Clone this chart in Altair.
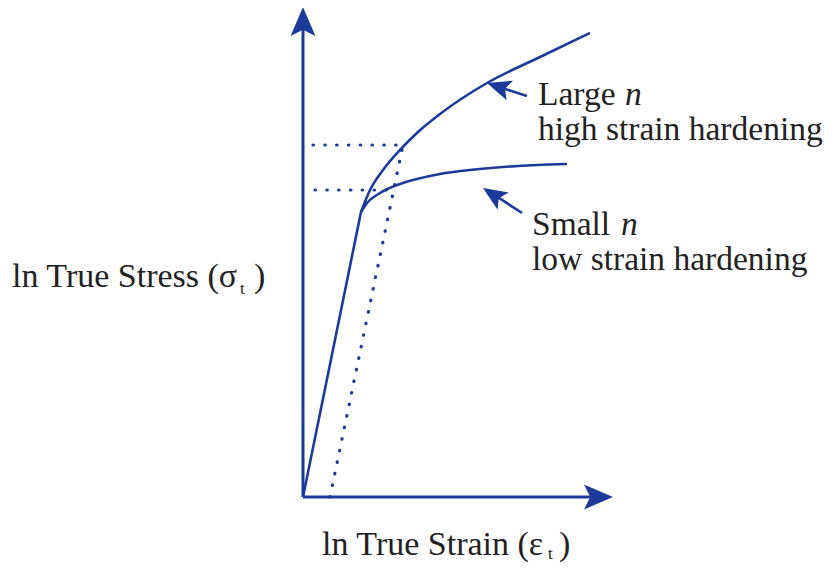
import altair as alt
import pandas as pd

# Schematic coordinates: x = ln strain (arbitrary units), y = ln stress (arbitrary units)
elastic_x = [0, 58]
elastic_y = [0, 285]

large_x = [58, 67, 80, 97, 115, 137, 184, 237, 287]
large_y = [285, 307, 327, 347, 365, 383, 414, 440, 464]

small_x = [58, 64, 77, 97, 114, 137, 167, 200, 234, 264]
small_y = [285, 294, 304, 313, 318, 323, 327, 330, 332, 333]

offset_x = [27, 100]
offset_y = [0, 352]

hi_x = [10, 100]
hi_y = [352, 352]
lo_x = [12, 89]
lo_y = [307, 307]

BLUE = "#1b3a9a"
INK = "#222222"
FONT = "Liberation Serif"
FS = 34
FS_R = 33.5

xs = alt.Scale(domain=[-295, 522], nice=False, zero=False)
ys = alt.Scale(domain=[-66, 489], nice=False, zero=False)


def line(xv, yv, dashed=False, width=2.6, interp="linear"):
    df = pd.DataFrame({"x": xv, "y": yv, "o": range(len(xv))})
    kw = dict(color=BLUE, strokeWidth=width, interpolate=interp)
    if dashed:
        kw.update(strokeDash=[0.5, 11.3], strokeCap="round", strokeWidth=3.2)
    return alt.Chart(df).mark_line(**kw).encode(
        x=alt.X("x:Q", scale=xs, axis=None),
        y=alt.Y("y:Q", scale=ys, axis=None),
        order="o:Q",
    )


ARROW = "M0,0 L0.857,2 L0,1.57 L-0.857,2 Z"


def head(x, y, ang, size):
    df = pd.DataFrame({"x": [x], "y": [y]})
    return alt.Chart(df).mark_point(
        shape=ARROW, filled=True, color=BLUE, opacity=1, size=size, angle=ang, strokeWidth=0
    ).encode(x=alt.X("x:Q", scale=xs, axis=None), y=alt.Y("y:Q", scale=ys, axis=None))


def text(s, x, y, size=FS, style="normal", align="left"):
    df = pd.DataFrame({"x": [x], "y": [y], "t": [s]})
    return alt.Chart(df).mark_text(
        font=FONT, fontSize=size, fontStyle=style, color=INK, align=align, baseline="alphabetic"
    ).encode(x=alt.X("x:Q", scale=xs, axis=None), y=alt.Y("y:Q", scale=ys, axis=None), text="t:N")


layers = [
    # axes
    line([0, 0], [0, 470], width=3),
    line([0, 292], [0, 0], width=3),
    head(0, 490, 0, 841),
    head(310, 0, 90, 841),
    # dotted construction lines
    line(offset_x, offset_y, dashed=True),
    line(hi_x, hi_y, dashed=True),
    line(lo_x, lo_y, dashed=True),
    # curves
    line(elastic_x, elastic_y, width=2.6),
    line(large_x, large_y, width=2.6, interp="monotone"),
    line(small_x, small_y, width=2.6, interp="monotone"),
    # pointer arrows
    line([224, 196], [401, 410], width=2.6),
    head(184, 414, 288, 576),
    line([219, 190], [284, 303], width=2.6),
    head(180, 309, 303, 576),
    # labels
    text("Large", 235, 392, size=FS_R),
    text("n", 322, 392, size=FS_R, style="italic"),
    text("high strain hardening", 235, 357, size=FS_R),
    text("Small", 229, 262, size=FS_R),
    text("n", 318, 262, size=FS_R, style="italic"),
    text("low strain hardening", 229, 227, size=FS_R),
    text("ln True Stress (\u03c3", -291, 210),
    text("t", -63, 203, size=17),
    text(")", -49, 210),
    text("ln True Strain (\u03b5", 19, -58),
    text("t", 245, -62, size=17),
    text(")", 256, -58),
]

chart = alt.layer(*layers).properties(
    width=817, height=555, autosize=alt.AutoSizeParams(type="none"), padding=0
).configure_view(stroke=None)

chart.save("out.html", embed_options={"renderer": "svg", "actions": False})
